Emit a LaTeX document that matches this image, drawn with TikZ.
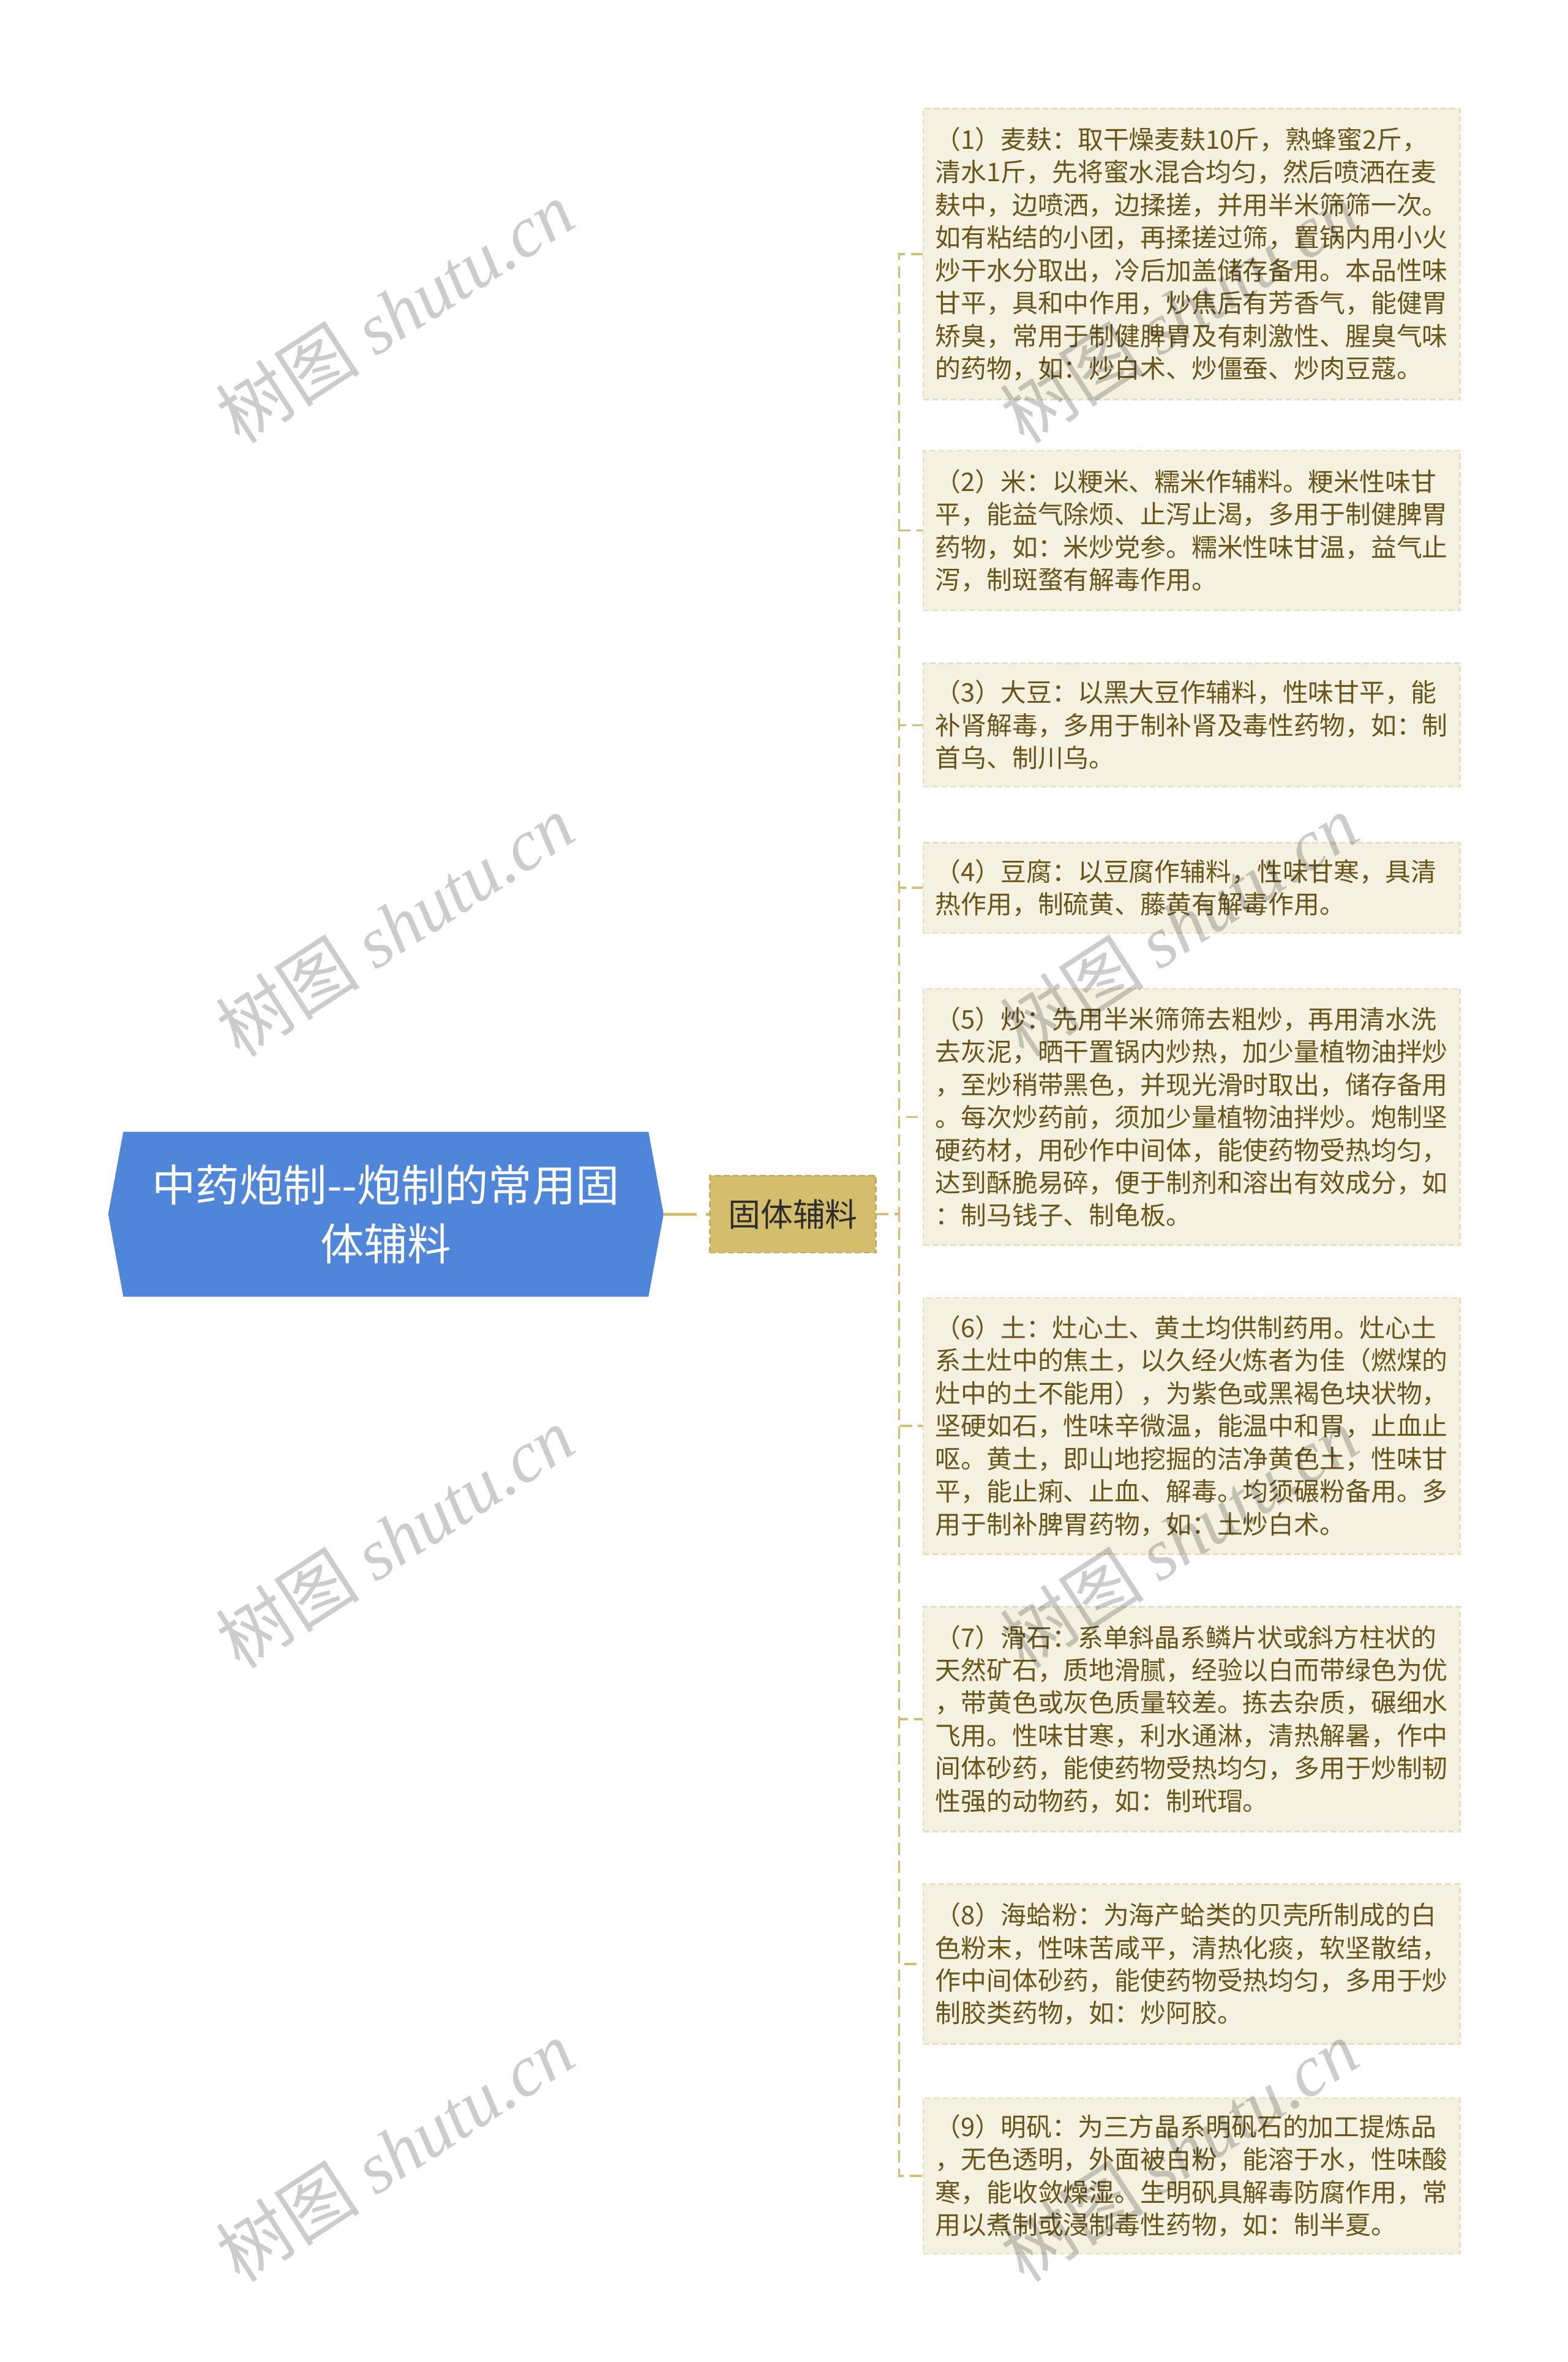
\documentclass[tikz,border=0pt]{standalone}
\usepackage{fontspec}
\setmainfont{Noto Sans CJK SC}
\newfontfamily\wmserif{Liberation Serif}
\usetikzlibrary{backgrounds}
\definecolor{rootblue}{RGB}{79,134,218}
\definecolor{subfill}{RGB}{212,189,108}
\definecolor{subborder}{RGB}{196,172,92}
\definecolor{subtext}{RGB}{45,45,45}
\definecolor{leaffill}{RGB}{245,241,225}
\definecolor{leafborder}{RGB}{230,222,192}
\definecolor{leaftext}{RGB}{105,85,25}
\definecolor{conncol}{RGB}{212,190,115}
\tikzset{
  rootnode/.style={text=white, font=\fontsize{29}{39}\selectfont, align=center,
    minimum width=368pt, minimum height=109pt, inner sep=0pt},
  subnode/.style={fill=subfill, draw=subborder, dash pattern=on 4pt off 2pt, line width=1pt,
    text=subtext, font=\fontsize{21.5}{26}\selectfont, minimum width=110pt,
    minimum height=51pt, inner sep=0pt},
  leaf/.style={fill=leaffill, draw=leafborder, dash pattern=on 4pt off 2pt, line width=1pt,
    text=leaftext, font=\fontsize{17}{21.7}\selectfont, text width=340pt, align=left,
    inner xsep=8pt, inner ysep=0pt, anchor=west},
  rootconn/.style={draw=conncol, line width=2pt, dash pattern=on 22pt off 6pt},
  conn/.style={draw=conncol, line width=1.4pt, dash pattern=on 8pt off 4pt},
  wm/.style={text=black, opacity=0.2, font=\fontsize{48}{54}\selectfont, inner sep=0pt}
}
\begin{document}
\begin{tikzpicture}[x=1pt, y=-1pt]
\useasboundingbox (0,0) rectangle (1040,1567);

\node[rootnode] (root) at (256,805.5) {中药炮制{-}{-}炮制的常用固\\体辅料};
\begin{pgfonlayer}{background}
\fill[white] (0,0) rectangle (1040,1567);
\fill[rootblue] (root.west) -- ([xshift=10pt]root.north west) -- ([xshift=-10pt]root.north east)
  -- (root.east) -- ([xshift=-10pt]root.south east) -- ([xshift=10pt]root.south west) -- cycle;
\end{pgfonlayer}

\node[subnode] (sub) at (526,805.5) {固体辅料};

\node[leaf, minimum height=193pt] (b1) at (612,168.5) {（1）麦麸：取干燥麦麸10斤，熟蜂蜜2斤，\\
清水1斤，先将蜜水混合均匀，然后喷洒在麦\\
麸中，边喷洒，边揉搓，并用半米筛筛一次。\\
如有粘结的小团，再揉搓过筛，置锅内用小火\\
炒干水分取出，冷后加盖储存备用。本品性味\\
甘平，具和中作用，炒焦后有芳香气，能健胃\\
矫臭，常用于制健脾胃及有刺激性、腥臭气味\\
的药物，如：炒白术、炒僵蚕、炒肉豆蔻。};

\node[leaf, minimum height=106pt] (b2) at (612,352) {（2）米：以粳米、糯米作辅料。粳米性味甘\\
平，能益气除烦、止泻止渴，多用于制健脾胃\\
药物，如：米炒党参。糯米性味甘温，益气止\\
泻，制斑蝥有解毒作用。};

\node[leaf, minimum height=82pt] (b3) at (612,481) {（3）大豆：以黑大豆作辅料，性味甘平，能\\
补肾解毒，多用于制补肾及毒性药物，如：制\\
首乌、制川乌。};

\node[leaf, minimum height=60pt] (b4) at (612,589) {（4）豆腐：以豆腐作辅料，性味甘寒，具清\\
热作用，制硫黄、藤黄有解毒作用。};

\node[leaf, minimum height=170pt] (b5) at (612,741) {（5）炒：先用半米筛筛去粗炒，再用清水洗\\
去灰泥，晒干置锅内炒热，加少量植物油拌炒\\
，至炒稍带黑色，并现光滑时取出，储存备用\\
。每次炒药前，须加少量植物油拌炒。炮制坚\\
硬药材，用砂作中间体，能使药物受热均匀，\\
达到酥脆易碎，便于制剂和溶出有效成分，如\\
：制马钱子、制龟板。};

\node[leaf, minimum height=170pt] (b6) at (612,946) {（6）土：灶心土、黄土均供制药用。灶心土\\
系土灶中的焦土，以久经火炼者为佳（燃煤的\\
灶中的土不能用），为紫色或黑褐色块状物，\\
坚硬如石，性味辛微温，能温中和胃，止血止\\
呕。黄土，即山地挖掘的洁净黄色土，性味甘\\
平，能止痢、止血、解毒。均须碾粉备用。多\\
用于制补脾胃药物，如：土炒白术。};

\node[leaf, minimum height=149pt] (b7) at (612,1140.5) {（7）滑石：系单斜晶系鳞片状或斜方柱状的\\
天然矿石，质地滑腻，经验以白而带绿色为优\\
，带黄色或灰色质量较差。拣去杂质，碾细水\\
飞用。性味甘寒，利水通淋，清热解暑，作中\\
间体砂药，能使药物受热均匀，多用于炒制韧\\
性强的动物药，如：制玳瑁。};

\node[leaf, minimum height=106pt] (b8) at (612,1303) {（8）海蛤粉：为海产蛤类的贝壳所制成的白\\
色粉末，性味苦咸平，清热化痰，软坚散结，\\
作中间体砂药，能使药物受热均匀，多用于炒\\
制胶类药物，如：炒阿胶。};

\node[leaf, minimum height=103pt] (b9) at (612,1443.5) {（9）明矾：为三方晶系明矾石的加工提炼品\\
，无色透明，外面被白粉，能溶于水，性味酸\\
寒，能收敛燥湿。生明矾具解毒防腐作用，常\\
用以煮制或浸制毒性药物，如：制半夏。};

\draw[rootconn] (root.east) -- (sub.west);
\foreach \b in {b1,b2,b3,b4,b5,b6,b7,b8,b9}{
  \draw[conn] (sub.east) -- ++(15,0) |- (\b.west);
}

\foreach \y in {207,614,1020,1427}{
  \node[wm, rotate=33] at (262,\y) {树图 {\wmserif\itshape shutu.cn}};
  \node[wm, rotate=33] at (782,\y) {树图 {\wmserif\itshape shutu.cn}};
}
\end{tikzpicture}
\end{document}
